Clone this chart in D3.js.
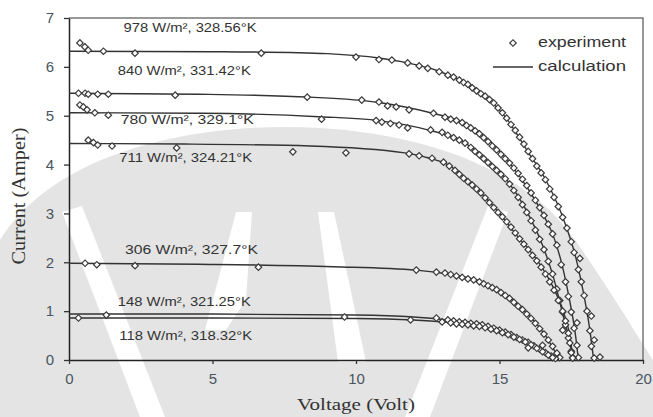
<!DOCTYPE html>
<html>
<head>
<meta charset="utf-8">
<script src="https://cdn.jsdelivr.net/npm/d3@7"></script>
<style>
  body { margin: 0; background: #fff; }
  svg { display: block; }
</style>
</head>
<body>
<div id="chart"></div>
<script>
// Calculation curves [voltage, current]
const calc978 = [[0,6.32],[5,6.31],[8,6.29],[9,6.27],[10.8,6.18],[11.8,6.08],[12.8,5.93],[13.7,5.7],[14.5,5.4],[15.3,4.9],[16.0,4.25],[16.6,3.7],[17.2,2.93],[17.7,2.0],[17.95,1.3],[18.1,0.8],[18.22,0.3],[18.28,0]];
const calc840 = [[0,5.46],[4.5,5.44],[8.4,5.38],[10.8,5.27],[12.6,5.06],[13.7,4.87],[14.3,4.66],[15.4,4.0],[16.0,3.5],[16.5,3.0],[16.9,2.5],[17.2,1.9],[17.45,1.2],[17.65,0.5],[17.75,0]];
const calc780 = [[0,5.06],[4.6,5.05],[8.7,4.98],[10.8,4.9],[12.5,4.71],[13.7,4.48],[14.3,4.22],[15.3,3.65],[15.9,3.1],[16.5,2.35],[16.9,1.65],[17.2,0.95],[17.45,0.35],[17.55,0]];
const calc711 = [[0,4.43],[4,4.42],[8.4,4.38],[11.7,4.24],[12.5,4.14],[13.2,4.0],[14.0,3.62],[15.0,3.0],[15.6,2.55],[16.3,2.05],[16.9,1.45],[17.3,0.85],[17.5,0.3],[17.55,0]];
const calc306 = [[0,1.98],[4.5,1.96],[9.2,1.91],[12.1,1.84],[13.2,1.76],[14.3,1.62],[14.9,1.45],[15.8,1.05],[16.6,0.5],[17.0,0.12],[17.15,0]];
const calc148 = [[0,0.94],[5,0.94],[10,0.92],[12,0.88],[13.2,0.82],[14.3,0.74],[15.2,0.58],[16.0,0.36],[16.6,0.15],[17.0,0]];
const calc118 = [[0,0.86],[5,0.86],[10,0.85],[12,0.82],[13.2,0.77],[14.3,0.7],[15.2,0.55],[16.0,0.34],[16.6,0.14],[16.95,0]];

// Experiment points [voltage, current]
const exp978 = [[0.38,6.49],[0.55,6.41],[0.67,6.34],[1.2,6.32],[2.3,6.28],[6.7,6.28],[10.0,6.2],[10.8,6.15],[11.25,6.14],[11.8,6.08],[12.2,6.02],[12.5,5.97],[12.9,5.9],[13.2,5.83],[13.4,5.79],[13.6,5.73],[13.75,5.68],[13.9,5.64],[14.05,5.57],[14.2,5.51],[14.35,5.45],[14.5,5.4],[14.65,5.33],[14.8,5.26],[14.95,5.16],[15.1,5.06],[15.25,4.95],[15.4,4.82],[15.55,4.7],[15.7,4.56],[15.85,4.42],[16.0,4.27],[16.15,4.12],[16.3,3.97],[16.45,3.83],[16.6,3.69],[16.75,3.5],[16.9,3.33],[17.05,3.14],[17.2,2.92],[17.35,2.7],[17.5,2.42],[17.6,2.2],[17.8,2.08],[17.75,1.85],[17.85,1.6],[17.95,1.32],[18.2,0.9],[18.05,1.0],[17.7,0.76],[17.2,0.61],[18.15,0.6],[18.3,0.41],[18.2,0.28],[18.3,0.04],[18.5,0.06]];
const exp840 = [[0.33,5.46],[0.56,5.46],[0.67,5.44],[1.0,5.44],[1.37,5.44],[3.7,5.42],[8.3,5.38],[10.2,5.32],[10.8,5.28],[11.1,5.2],[11.4,5.18],[11.85,5.12],[12.7,5.05],[13.1,4.97],[13.3,4.93],[13.5,4.9],[13.7,4.86],[13.85,4.8],[14.0,4.75],[14.15,4.69],[14.3,4.63],[14.45,4.55],[14.6,4.47],[14.75,4.38],[14.9,4.3],[15.05,4.21],[15.2,4.12],[15.35,4.03],[15.5,3.93],[15.65,3.82],[15.8,3.7],[15.95,3.57],[16.1,3.42],[16.25,3.27],[16.4,3.12],[16.55,2.96],[16.7,2.78],[16.85,2.58],[17.0,2.35],[17.15,1.95],[17.3,1.6],[17.4,1.3],[17.5,0.98],[17.6,0.65],[17.7,0.3],[17.75,0.05]];
const exp780 = [[0.38,5.22],[0.5,5.18],[0.63,5.12],[0.9,5.06],[1.37,5.01],[8.8,4.93],[10.7,4.9],[10.9,4.87],[11.2,4.84],[11.5,4.81],[11.8,4.75],[12.6,4.71],[13.0,4.66],[13.2,4.6],[13.4,4.55],[13.6,4.5],[13.8,4.44],[14.0,4.35],[14.15,4.27],[14.3,4.2],[14.45,4.12],[14.6,4.04],[14.75,3.96],[14.9,3.88],[15.05,3.8],[15.2,3.71],[15.35,3.6],[15.5,3.47],[15.65,3.33],[15.8,3.18],[15.95,3.02],[16.1,2.85],[16.25,2.66],[16.4,2.47],[16.55,2.26],[16.7,2.02],[16.85,1.76],[17.0,1.45],[17.1,1.22],[17.2,0.98],[17.3,0.72],[17.4,0.45],[17.5,0.18],[17.55,0.05]];
const exp711 = [[0.67,4.5],[0.85,4.45],[1.0,4.4],[1.5,4.38],[3.75,4.34],[7.8,4.26],[9.65,4.24],[11.85,4.22],[12.2,4.18],[12.65,4.13],[13.05,4.05],[13.25,3.97],[13.45,3.88],[13.6,3.8],[13.75,3.72],[13.9,3.65],[14.05,3.58],[14.2,3.5],[14.35,3.42],[14.5,3.32],[14.65,3.22],[14.8,3.12],[14.95,3.02],[15.1,2.93],[15.25,2.83],[15.4,2.72],[15.55,2.6],[15.7,2.48],[15.85,2.37],[16.0,2.26],[16.15,2.14],[16.3,2.03],[16.45,1.9],[16.6,1.76],[16.75,1.6],[16.9,1.43],[17.05,1.22],[17.2,1.0],[17.3,0.8],[17.4,0.55],[17.45,0.35],[17.5,0.15],[17.55,0.04]];
const exp306 = [[0.56,1.98],[0.97,1.95],[2.3,1.93],[6.6,1.9],[12.1,1.84],[12.8,1.8],[13.1,1.78],[13.3,1.75],[13.5,1.72],[13.7,1.69],[13.9,1.66],[14.1,1.64],[14.3,1.6],[14.45,1.56],[14.6,1.52],[14.75,1.48],[14.9,1.44],[15.05,1.38],[15.2,1.32],[15.35,1.26],[15.5,1.18],[15.65,1.1],[15.8,1.03],[15.95,0.94],[16.1,0.85],[16.25,0.75],[16.4,0.64],[16.55,0.53],[16.7,0.41],[16.85,0.28],[17.0,0.14],[17.1,0.05]];
const exp148 = [[1.3,0.92],[9.6,0.88],[12.8,0.86],[13.2,0.82],[13.4,0.8],[13.6,0.78],[13.8,0.77],[14.0,0.75],[14.2,0.74],[14.4,0.72],[14.6,0.69],[14.8,0.65],[15.0,0.61],[15.2,0.57],[15.4,0.52],[15.6,0.46],[15.8,0.41],[16.0,0.36],[16.2,0.29],[16.4,0.22],[16.6,0.15],[16.8,0.08],[16.95,0.03]];
const exp118 = [[0.33,0.86],[11.9,0.82],[13.0,0.78],[13.3,0.76],[13.5,0.74],[13.7,0.73],[13.9,0.72],[14.1,0.7],[14.3,0.69],[14.5,0.66],[14.7,0.63],[14.9,0.6],[15.1,0.56],[15.3,0.52],[15.5,0.47],[15.7,0.42],[15.9,0.37],[16.1,0.31],[16.3,0.24],[16.5,0.17],[16.7,0.1],[16.85,0.05],[16.5,0.3],[16.0,0.25]];

const labels = ["978 W/m², 328.56°K", "840 W/m², 331.42°K", "780 W/m², 329.1°K", "711 W/m², 324.21°K",
                "306 W/m², 327.7°K", "148 W/m², 321.25°K", "118 W/m², 318.32°K"];
// label anchor in data units [voltage, current]
const labelPos = [[1.9,6.72], [1.7,5.83], [1.8,4.84], [1.75,4.05], [1.95,2.17], [1.7,1.1], [1.75,0.41]];
const xTicks = [0, 5, 10, 15, 20];
const yTicks = [0, 1, 2, 3, 4, 5, 6, 7];

const curves = [calc978, calc840, calc780, calc711, calc306, calc148, calc118];
const points = [exp978, exp840, exp780, exp711, exp306, exp148, exp118];

const W = 653, H = 417;
const svg = d3.create("svg").attr("width", W).attr("height", H);
document.getElementById("chart").appendChild(svg.node());

// faint page watermark behind the chart (rough outline)
const wm = svg.append("g").attr("class", "watermark");
wm.append("path")
  .attr("d", "M0,417 L0,240 C50,160 170,127 285,127 C400,127 520,160 575,240 C610,290 640,340 653,360 L653,417 Z")
  .attr("fill", "#e4e4e4");
for (const d of [
  "M62,212 L82,206 L165,417 L140,417 Z",
  "M488,206 L508,212 L430,417 L405,417 Z",
  "M236,212 L252,212 L246,300 L226,330 L205,330 Z",
  "M318,212 L334,212 L366,362 L338,362 Z"
]) {
  wm.append("path").attr("d", d).attr("fill", "#fff");
}

const x = d3.scaleLinear().domain([0, 20]).range([69, 643]);
const y = d3.scaleLinear().domain([0, 7]).range([360, 18]);

// frame (top and right)
svg.append("path")
  .attr("d", `M${x(0)},${y(7)}H${x(20)}V${y(0)}`)
  .attr("fill", "none")
  .attr("stroke", "#777")
  .attr("stroke-width", 1.5);

const tickColor = "#4a5560";

const yAxis = svg.append("g")
  .attr("transform", `translate(${x(0)},0)`)
  .call(d3.axisLeft(y).tickValues(yTicks).tickFormat(d3.format("d"))
    .tickSize(5).tickPadding(10).tickSizeOuter(0));
const xAxis = svg.append("g")
  .attr("transform", `translate(0,${y(0)})`)
  .call(d3.axisBottom(x).tickValues(xTicks).tickFormat(d3.format("d"))
    .tickSize(4).tickPadding(9).tickSizeOuter(0));

for (const ax of [xAxis, yAxis]) {
  ax.select(".domain").attr("stroke", "#222").attr("stroke-width", 1.5);
  ax.selectAll(".tick line").attr("stroke", "#333").attr("stroke-width", 1.3);
  ax.selectAll(".tick text")
    .attr("fill", tickColor)
    .attr("font-family", "Liberation Sans, Arial, sans-serif")
    .attr("font-size", "15px");
}

const line = d3.line()
  .x(d => x(d[0]))
  .y(d => y(d[1]))
  .curve(d3.curveMonotoneX);

svg.append("g")
  .selectAll("path")
  .data(curves)
  .join("path")
  .attr("d", line)
  .attr("fill", "none")
  .attr("stroke", "#333")
  .attr("stroke-width", 1.4);

// small open diamond (square turned 45 degrees)
const diamond = d3.symbol().type(d3.symbolSquare).size(21);

svg.append("g")
  .selectAll("g")
  .data(points)
  .join("g")
  .selectAll("path")
  .data(d => d)
  .join("path")
  .attr("d", diamond)
  .attr("transform", d => `translate(${x(d[0])},${y(d[1])}) rotate(45)`)
  .attr("fill", "#fff")
  .attr("stroke", "#3a3a3a")
  .attr("stroke-width", 1.2);

// curve labels
svg.append("g")
  .selectAll("text")
  .data(labels)
  .join("text")
  .attr("x", (d, i) => x(labelPos[i][0]))
  .attr("y", (d, i) => y(labelPos[i][1]))
  .attr("font-family", "Liberation Sans, Arial, sans-serif")
  .attr("font-size", "13px")
  .attr("fill", "#333")
  .attr("textLength", 133)
  .attr("lengthAdjust", "spacingAndGlyphs")
  .text(d => d);

// legend
const legend = svg.append("g");
legend.append("path")
  .attr("d", diamond)
  .attr("transform", "translate(513,43) rotate(45)")
  .attr("fill", "#fff")
  .attr("stroke", "#3a3a3a")
  .attr("stroke-width", 1.2);
legend.append("line")
  .attr("x1", 493).attr("x2", 533).attr("y1", 67).attr("y2", 67)
  .attr("stroke", "#333").attr("stroke-width", 1.4);
legend.selectAll("text")
  .data(["experiment", "calculation"])
  .join("text")
  .attr("x", 538)
  .attr("y", (d, i) => 47 + i * 24)
  .attr("font-family", "Liberation Sans, Arial, sans-serif")
  .attr("font-size", "14px")
  .attr("fill", "#333")
  .attr("textLength", 88)
  .attr("lengthAdjust", "spacingAndGlyphs")
  .text(d => d);

// axis titles
svg.append("text")
  .attr("x", 356)
  .attr("y", 410)
  .attr("text-anchor", "middle")
  .attr("font-family", "Liberation Serif, Times New Roman, serif")
  .attr("font-size", "17px")
  .attr("fill", "#333")
  .attr("textLength", 118)
  .attr("lengthAdjust", "spacingAndGlyphs")
  .text("Voltage (Volt)");

svg.append("text")
  .attr("transform", "translate(25,196) rotate(-90)")
  .attr("text-anchor", "middle")
  .attr("font-family", "Liberation Serif, Times New Roman, serif")
  .attr("font-size", "18px")
  .attr("fill", "#333")
  .attr("textLength", 137)
  .attr("lengthAdjust", "spacingAndGlyphs")
  .text("Current (Amper)");
</script>
</body>
</html>
